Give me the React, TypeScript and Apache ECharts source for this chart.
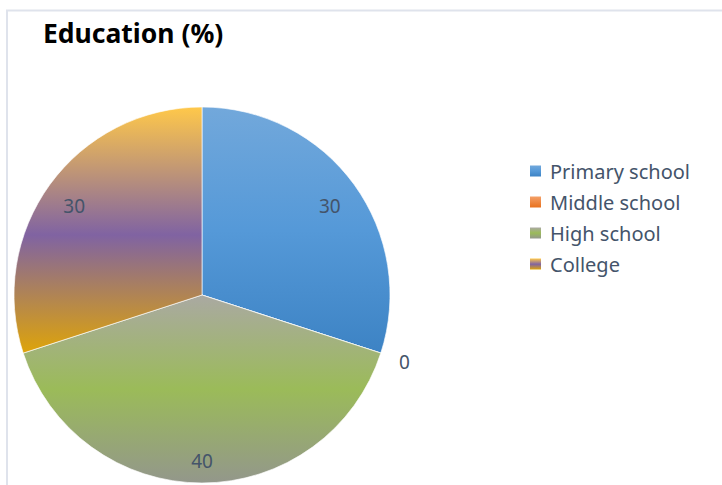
import React, { useEffect, useRef } from "react";
import * as echarts from "echarts";

const titleText = "Education (%)";
const categories = ["Primary school", "Middle school", "High school", "College"];
const values = [30, 0, 40, 30];

const grad = (stops: [number, string][]) =>
  new echarts.graphic.LinearGradient(0, 0, 0, 1, stops.map(([offset, color]) => ({ offset, color })));

const sliceFills = [
  grad([[0, "#72a8db"], [0.5, "#5599d8"], [1, "#3d83c4"]]),
  grad([[0, "#f4a068"], [1, "#e8711e"]]),
  grad([[0, "#aaa9a2"], [0.5, "#9bbb59"], [1, "#93978b"]]),
  grad([[0, "#ffc84a"], [0.52, "#8063a2"], [1, "#dea40a"]]),
];

export default function App() {
  const ref = useRef<HTMLDivElement>(null);
  useEffect(() => {
    document.body.style.margin = "0";
    const chart = echarts.init(ref.current!, null, { renderer: "svg" });
    const font = "'Noto Sans', 'Open Sans', sans-serif";
    const labelColor = "#44546a";
    const richFor = (gap: number) => ({
      g: { lineHeight: gap, fontSize: 1 },
      v: { lineHeight: 22, fontSize: 19, fontFamily: font, color: labelColor },
    });
    chart.setOption({
      animation: false,
      backgroundColor: "#ffffff",
      title: {
        text: titleText,
        left: 38,
        top: 14,
        textStyle: { fontFamily: font, fontWeight: "bold", fontSize: 26.5, color: "#000000" },
      },
      legend: {
        orient: "vertical",
        left: 530,
        top: 161,
        padding: 0,
        itemWidth: 11,
        itemHeight: 11,
        itemGap: 11,
        icon: "rect",
        itemStyle: { borderWidth: 0 },
        data: categories,
        textStyle: { fontFamily: font, fontSize: 20, color: labelColor, lineHeight: 20, padding: [0, 0, 0, 4] },
      },
      graphic: [
        { type: "line", shape: { x1: 6, y1: 10.5, x2: 722, y2: 10.5 }, style: { stroke: "#dfe3ec", lineWidth: 2 } },
        { type: "line", shape: { x1: 7, y1: 10, x2: 7, y2: 485 }, style: { stroke: "#dfe3ec", lineWidth: 2 } },
      ],
      series: [
        {
          type: "pie",
          center: [202, 295],
          radius: [0, 188],
          startAngle: 90,
          clockwise: true,
          label: { show: false },
          labelLine: { show: false },
          itemStyle: { borderColor: "rgba(255,255,255,0.8)", borderWidth: 0.8 },
          emphasis: { disabled: true },
          data: categories.map((name, i) => ({ name, value: values[i], itemStyle: { color: sliceFills[i] } })),
        },
        {
          type: "pie",
          center: [202, 295],
          radius: [122, 188],
          startAngle: 90,
          clockwise: true,
          silent: true,
          legendHoverLink: false,
          itemStyle: { color: "rgba(0,0,0,0)" },
          emphasis: { disabled: true },
          label: {
            show: true,
            position: "inside",
            formatter: "{g|}\n{v|{c}}",
            rich: richFor(7),
          },
          labelLine: { show: false },
          data: categories.map((name, i) => {
            if (values[i] === 0) {
              return {
                name: name + " ",
                value: values[i],
                label: { position: "outside", formatter: "{g|}\n{v|{c}}", rich: richFor(10) },
                labelLine: { show: false, length: 14, length2: 0 },
              };
            }
            if (values[i] === 40) {
              return { name: name + " ", value: values[i], label: { rich: richFor(16) } };
            }
            return { name: name + " ", value: values[i] };
          }),
        },
      ],
    });
    return () => chart.dispose();
  }, []);
  return <div ref={ref} style={{ width: 722, height: 485 }} />;
}
